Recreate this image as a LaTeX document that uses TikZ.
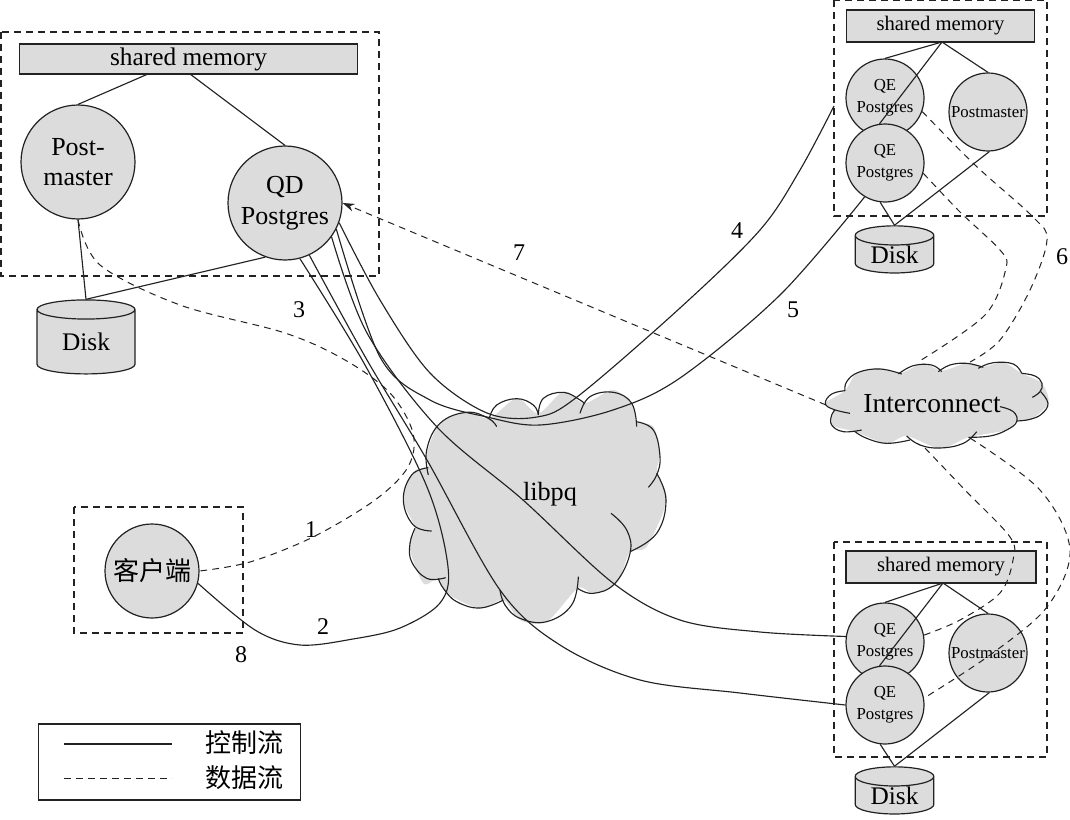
\documentclass[tikz,border=0pt]{standalone}
\usepackage{fontspec}
\setmainfont{Liberation Serif}
\newfontfamily\cjk{Noto Sans CJK SC}
\usetikzlibrary{shapes.geometric,arrows.meta}
\definecolor{ink}{HTML}{222222}
\definecolor{pale}{HTML}{DCDCDC}
\tikzset{
  ln/.style={draw=ink,line width=0.85pt},
  dsh/.style={draw=ink,line width=0.75pt,dash pattern=on 5pt off 4pt},
  box/.style={draw=ink,dash pattern=on 5pt off 4pt,line width=0.8pt},
  bar/.style={draw=ink,fill=pale,line width=0.9pt,inner sep=0pt,anchor=center},
  bigc/.style={circle,draw=ink,fill=pale,line width=0.9pt,minimum size=85.5pt,inner sep=0pt,align=center,font=\fontsize{19.5}{23}\selectfont},
  smallc/.style={circle,draw=ink,fill=pale,line width=0.9pt,minimum size=58.5pt,inner sep=0pt,align=center,font=\fontsize{12.6}{16.5}\selectfont},
  cyl/.style={cylinder,shape border rotate=90,aspect=0.4,draw=ink,fill=pale,line width=0.9pt,inner sep=0pt,font=\fontsize{19}{22}\selectfont},
  lab/.style={font=\fontsize{18}{20}\selectfont,inner sep=0pt},
  lobe/.style={draw=ink,line width=0.85pt,smooth,tension=0.7},
}
\begin{document}
\begin{tikzpicture}[x=0.75pt,y=-0.75pt]
\useasboundingbox (0,0) rectangle (1070,820);
% clouds
\begin{scope}[shift={(280,200)},x=0.25pt,y=-0.25pt]
\fill[pale] plot[smooth cycle,tension=0.5] coordinates {(440,760)(480,670)(560,637)(628,655)(710,595)(775,640)(850,575)(913,610)(1000,570)(1060,620)(1068,665)(1120,680)(1140,760)(1130,820)(1160,900)(1100,1040)(1050,1055)(1010,1150)(940,1180)(893,1165)(800,1265)(720,1260)(670,1200)(600,1225)(500,1180)(475,1135)(430,1150)(388,1040)(405,985)(370,900)(400,815)(445,803)};
\draw[lobe] plot coordinates {(445,825)(440,750)(480,670)(560,637)(625,655)(650,680)};
\draw[lobe] plot coordinates {(628,655)(650,615)(710,596)(760,615)(775,645)};
\draw[lobe] plot coordinates {(775,645)(790,595)(850,577)(900,600)(913,612)};
\draw[lobe] plot coordinates {(900,640)(930,590)(1000,577)(1055,610)(1070,680)};
\draw[lobe] plot coordinates {(1068,665)(1120,690)(1140,770)(1130,825)(1105,862)};
\draw[lobe] plot coordinates {(1130,820)(1158,900)(1130,1000)(1050,1055)};
\draw[lobe] plot coordinates {(993,940)(1040,990)(1050,1060)(1005,1150)(940,1180)(893,1165)};
\draw[lobe] plot coordinates {(895,1130)(875,1215)(800,1265)(720,1255)(675,1215)(660,1170)};
\draw[lobe] plot coordinates {(670,1200)(600,1224)(530,1205)(490,1165)(475,1135)};
\draw[lobe] plot coordinates {(497,1133)(440,1135)(395,1085)(390,1030)(405,985)};
\draw[lobe] plot coordinates {(455,993)(400,975)(370,900)(395,825)(445,803)};
\end{scope}
\begin{scope}[shift={(800,350)},x=0.25pt,y=-0.25pt]
\fill[pale] plot[smooth cycle,tension=0.5] coordinates {(75,160)(135,122)(170,70)(240,55)(300,70)(370,40)(425,62)(500,40)(550,50)(610,38)(665,70)(725,100)(745,160)(690,210)(650,213)(620,240)(505,262)(420,295)(320,258)(260,280)(165,245)(95,225)(100,180)};
\draw[lobe] plot coordinates {(150,190)(100,178)(76,160)(95,132)(135,122)};
\draw[lobe] plot coordinates {(135,122)(140,95)(175,67)(240,57)(305,72)};
\draw[lobe] plot coordinates {(295,72)(340,47)(395,45)(425,65)};
\draw[lobe] plot coordinates {(415,65)(450,45)(500,40)(550,52)};
\draw[lobe] plot coordinates {(535,55)(580,38)(640,42)(665,70)};
\draw[lobe] plot coordinates {(665,70)(705,78)(726,100)(720,125)(697,142)};
\draw[lobe] plot coordinates {(722,125)(744,160)(725,192)(690,208)(650,213)};
\draw[lobe] plot coordinates {(600,170)(640,185)(650,215)(620,240)(570,258)(505,262)};
\draw[lobe] plot coordinates {(530,245)(490,280)(420,294)(360,285)(320,258)};
\draw[lobe] plot coordinates {(330,270)(260,280)(200,265)(165,245)};
\draw[lobe] plot coordinates {(185,240)(130,245)(95,225)(95,195)(105,180)};
\end{scope}
\node[font=\fontsize{19.7}{22}\selectfont,inner sep=0pt] (libpq) at (550,494) {libpq};
\node[font=\fontsize{20.6}{22}\selectfont,inner sep=0pt] (ic) at (932,404) {Interconnect};
% dashed frames
\draw[box] (1,32) rectangle (379,276);
\draw[box] (834,0) rectangle (1047,216);
\draw[box] (834,542) rectangle (1047,757);
\draw[box] (74,507) rectangle (243,633);
% left group
\node[bar,minimum width=254pt,minimum height=22.5pt,font=\fontsize{19}{22}\selectfont] (sm) at (188.5,59) {shared memory};
\node[bigc] (pm) at (78,162) {Post-\\master};
\node[bigc] (qd) at (285,203) {QD\\Postgres};
\node[cyl,minimum width=73.5pt,minimum height=55.5pt] (dl) at (86,342) {Disk};
% client
\node[circle,draw=ink,fill=pale,line width=0.9pt,minimum size=70.5pt,inner sep=0pt,font=\cjk\fontsize{19.5}{22}\selectfont] (cl) at (152,571) {客户端};
% top right group
\node[bar,minimum width=141.5pt,minimum height=24pt,font=\fontsize{15.5}{18}\selectfont] (smt) at (940.5,26) {shared memory};
\node[smallc] (qt1) at (885,98) {QE\\Postgres};
\node[smallc] (qt2) at (885,163) {QE\\Postgres};
\node[smallc] (pt) at (988,112) {Postmaster};
\node[cyl,minimum width=59pt,minimum height=33.5pt] (dt) at (894.5,254.5) {Disk};
% bottom right group
\node[bar,minimum width=142.5pt,minimum height=24pt,font=\fontsize{15.5}{18}\selectfont] (smb) at (941,567) {shared memory};
\node[smallc] (qb1) at (885,642) {QE\\Postgres};
\node[smallc] (qb2) at (885,705) {QE\\Postgres};
\node[smallc] (pb) at (988,653) {Postmaster};
\node[cyl,minimum width=59pt,minimum height=33.5pt] (db) at (894.5,795.5) {Disk};
% attachment points
\coordinate (smA) at (148,74);
\coordinate (smB) at (190,74);
\coordinate (smtA) at (942,42);
\coordinate (smbA) at (943,583);
\coordinate (fr4) at (834,106);
\coordinate (icW) at (826,405);
\coordinate (icS1) at (925,448);
\coordinate (icS2) at (970,438);
\coordinate (icN1) at (918,362);
\coordinate (icN2) at (970,362);
% control lines
\draw[ln] (smA) -- (pm.north);
\draw[ln] (smB) -- (qd.north);
\draw[ln] (pm.south) -- (dl.top);
\draw[ln] (qd.-110) -- (dl.top);
\draw[ln] (smtA) -- (qt1.north);
\draw[ln] (smtA) -- (qt2.98);
\draw[ln] (smtA) -- (pt.north);
\draw[ln] (qt2.-97) -- (dt.top);
\draw[ln] (pt.-88) -- (dt.top);
\draw[ln] (smbA) -- (qb1.north);
\draw[ln] (smbA) -- (qb2.98);
\draw[ln] (smbA) -- (pb.north);
\draw[ln] (qb2.-97) -- (db.top);
\draw[ln] (pb.-88) -- (db.top);
\draw[ln] plot[smooth,tension=0.55] coordinates {(qd.-75)(365,365)(427,487)(448,567)(440,603)(400,628)(353,639)(300,645)(255,630)(cl.-15)};
\draw[ln] plot[smooth,tension=0.55] coordinates {(qd.-65)(367,360)(427,460)(500,590)(560,645)(640,680)(740,693)(qb2.180)};
\draw[ln] plot[smooth,tension=0.55] coordinates {(qd.-36)(367,333)(437,427)(523,500)(613,583)(680,620)(760,632)(qb1.172)};
\draw[ln] plot[smooth,tension=0.55] coordinates {(qd.-27)(380,357)(430,400)(487,417)(540,425)(613,410)(680,378)(780,295)(qt2.-121)};
\draw[ln] plot[smooth,tension=0.55] coordinates {(qd.-20)(380,300)(430,373)(487,413)(537,417)(577,397)(680,308)(760,230)(800,170)(fr4)};
% data lines
\draw[dsh] plot[smooth,tension=0.55] coordinates {(pm.-90)(100,265)(180,305)(285,333)(345,360)(390,393)(413,433)(408,467)(375,500)(313,537)(250,562)(cl.east)};
\draw[dsh,-{Stealth[length=9pt,width=6pt]}] (icW) -- (qd.east);
\draw[dsh] plot[smooth,tension=0.55] coordinates {(qt1.-20)(975,165)(1033,217)(1047,240)(1030,290)(1000,340)(icN2)};
\draw[dsh] plot[smooth,tension=0.55] coordinates {(qt2.-15)(960,212)(1000,250)(1006,268)(985,315)(icN1)};
\draw[dsh] plot[smooth,tension=0.55] coordinates {(icS1)(965,490)(1010,537)(1013,560)(1000,593)(960,620)(qb1.10)};
\draw[dsh] plot[smooth,tension=0.55] coordinates {(icS2)(1040,490)(1070,550)(1047,607)(990,655)(qb2.10)};
% numbers
\node[lab] (n7) at (519,253) {7};
\node[lab] (n4) at (737,231) {4};
\node[lab] (n5) at (793,310) {5};
\node[lab] (n6) at (1062,257) {6};
\node[lab] (n3) at (299,310) {3};
\node[lab] (n1) at (311,530) {1};
\node[lab] (n2) at (323,627) {2};
\node[lab] (n8) at (241,655) {8};
% legend
\node[draw=ink,line width=0.9pt,minimum width=197pt,minimum height=57pt,inner sep=0pt] (leg) at (169.5,762) {};
\coordinate (la) at (64,744);
\coordinate (lb) at (172,744);
\coordinate (lc) at (64,778);
\coordinate (ld) at (172,778);
\draw[ln] (la) -- (lb);
\draw[dsh] (lc) -- (ld);
\node[font=\cjk\fontsize{19.5}{22}\selectfont,inner sep=0pt] (t1) at (244,743) {控制流};
\node[font=\cjk\fontsize{19.5}{22}\selectfont,inner sep=0pt] (t2) at (244,778) {数据流};
\end{tikzpicture}
\end{document}
